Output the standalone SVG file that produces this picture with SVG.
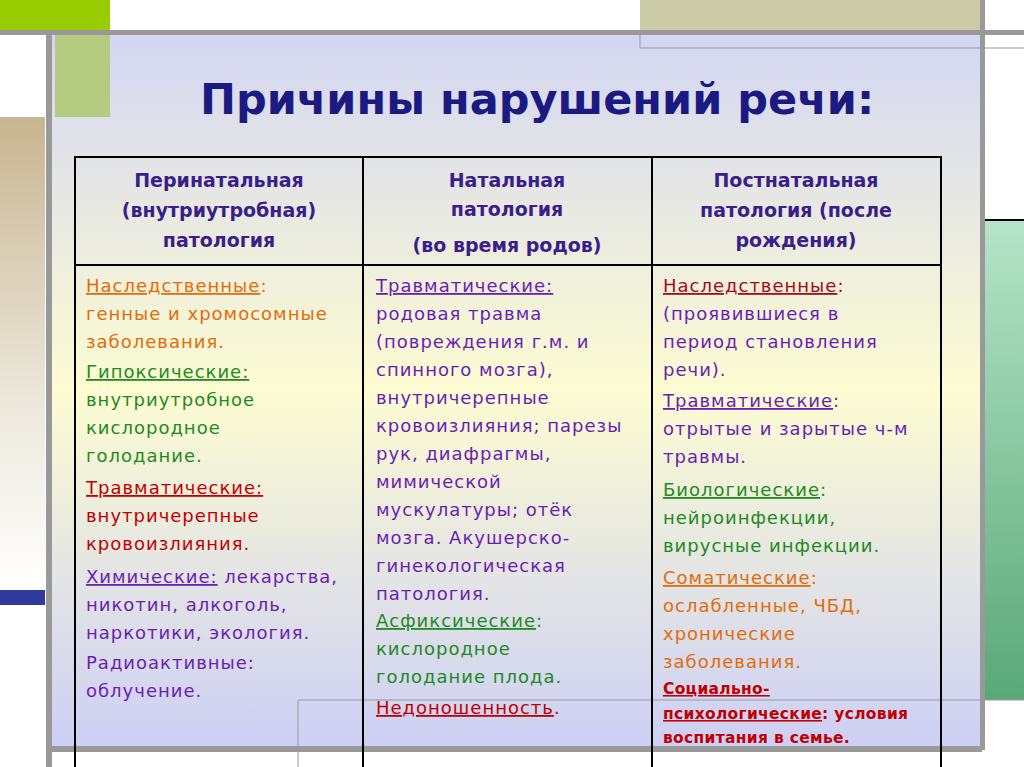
<svg xmlns="http://www.w3.org/2000/svg" width="1024" height="767" viewBox="0 0 1024 767">
<defs>
<linearGradient id="bg" x1="0" y1="0" x2="0" y2="1">
<stop offset="0" stop-color="#d3d6f2"/><stop offset="0.5" stop-color="#fdfcd2"/><stop offset="1" stop-color="#cccff5"/>
</linearGradient>
<linearGradient id="tan" x1="0" y1="0" x2="0" y2="1">
<stop offset="0" stop-color="#c8b590"/><stop offset="0.6" stop-color="#ece8dc"/><stop offset="1" stop-color="#ffffff"/>
</linearGradient>
<linearGradient id="grn" x1="0" y1="0" x2="0" y2="1">
<stop offset="0" stop-color="#b6e4c8"/><stop offset="1" stop-color="#5aa878"/>
</linearGradient>
<style>
.t{font-family:"DejaVu Sans",sans-serif;font-size:18px;letter-spacing:1px}
.h{font-family:"DejaVu Sans",sans-serif;font-size:19px;font-weight:bold;fill:#3a1e8c;text-anchor:middle}
.u{text-decoration:underline}
.or{fill:#e36c0a}.gr{fill:#1e8a22}.rd{fill:#c00000}.pu{fill:#6a1eb4}
.ln{stroke:#000;stroke-width:2;fill:none}
.gl{stroke:#999;fill:none}
</style>
</defs>
<rect width="1024" height="767" fill="#fff"/>
<g id="decor">
<rect x="0" y="0" width="110" height="30" fill="#99cc00"/>
<rect x="640" y="0" width="340" height="30" fill="#cccba8"/>
<rect x="50" y="33" width="932" height="717" fill="url(#bg)"/>
<rect x="0" y="117" width="45" height="473" fill="url(#tan)"/>
<rect x="0" y="590" width="45" height="15" fill="#2f3a9e"/>
<rect x="985" y="220" width="39" height="480" fill="url(#grn)"/>
<line x1="985" y1="220" x2="1024" y2="220" stroke="#000" stroke-width="2"/>
<rect x="0" y="30" width="1024" height="5" fill="#999"/>
<rect x="46" y="30" width="6" height="737" fill="#999"/>
<rect x="980" y="0" width="5" height="750" fill="#999"/>
<rect x="52" y="746" width="930" height="6" fill="#999"/>
<rect x="55" y="35" width="55" height="82" fill="#b5cc80"/>
<path class="gl" d="M640 30V48H1024"/>
<path class="gl" d="M298 767V700H1024"/>
</g>
<text x="537" y="114" text-anchor="middle" font-family="DejaVu Sans,sans-serif" font-size="43" font-weight="bold" fill="#1a1a82">Причины нарушений речи:</text>
<g id="table">
<rect class="ln" x="75" y="157" width="866" height="620"/>
<line class="ln" x1="75" y1="265" x2="941" y2="265"/>
<line class="ln" x1="363" y1="157" x2="363" y2="767"/>
<line class="ln" x1="652" y1="157" x2="652" y2="767"/>
</g>
<g id="headers">
<text class="h" x="219" y="187">Перинатальная</text>
<text class="h" x="219" y="217">(внутриутробная)</text>
<text class="h" x="219" y="247">патология</text>
<text class="h" x="507" y="187">Натальная</text>
<text class="h" x="507" y="216">патология</text>
<text class="h" x="507" y="252">(во время родов)</text>
<text class="h" x="796" y="187">Постнатальная</text>
<text class="h" x="796" y="217">патология (после</text>
<text class="h" x="796" y="247">рождения)</text>
</g>
<g id="col1" class="t">
<text x="86" y="292" class="or"><tspan class="u">Наследственные</tspan>:</text>
<text x="86" y="320" class="or">генные и хромосомные</text>
<text x="86" y="348" class="or">заболевания.</text>
<text x="86" y="378" class="gr"><tspan class="u">Гипоксические:</tspan></text>
<text x="86" y="406" class="gr">внутриутробное</text>
<text x="86" y="434" class="gr">кислородное</text>
<text x="86" y="462" class="gr">голодание.</text>
<text x="86" y="494" class="rd"><tspan class="u">Травматические:</tspan></text>
<text x="86" y="522" class="rd">внутричерепные</text>
<text x="86" y="550" class="rd">кровоизлияния.</text>
<text x="86" y="583" class="pu"><tspan class="u">Химические:</tspan> лекарства,</text>
<text x="86" y="611" class="pu">никотин, алкоголь,</text>
<text x="86" y="639" class="pu">наркотики, экология.</text>
<text x="86" y="669" class="pu">Радиоактивные:</text>
<text x="86" y="697" class="pu">облучение.</text>
</g>
<g id="col2" class="t">
<text x="376" y="292" class="pu"><tspan class="u">Травматические:</tspan></text>
<text x="376" y="320" class="pu">родовая травма</text>
<text x="376" y="348" class="pu">(повреждения г.м. и</text>
<text x="376" y="376" class="pu">спинного мозга),</text>
<text x="376" y="404" class="pu">внутричерепные</text>
<text x="376" y="432" class="pu">кровоизлияния; парезы</text>
<text x="376" y="460" class="pu">рук, диафрагмы,</text>
<text x="376" y="488" class="pu">мимической</text>
<text x="376" y="516" class="pu">мускулатуры; отёк</text>
<text x="376" y="544" class="pu">мозга. Акушерско-</text>
<text x="376" y="572" class="pu">гинекологическая</text>
<text x="376" y="600" class="pu">патология.</text>
<text x="376" y="627" class="gr"><tspan class="u">Асфиксические</tspan>:</text>
<text x="376" y="655" class="gr">кислородное</text>
<text x="376" y="683" class="gr">голодание плода.</text>
<text x="376" y="714" class="rd"><tspan class="u">Недоношенность</tspan>.</text>
</g>
<g id="col3" class="t">
<text x="663" y="292" fill="#a00c1c"><tspan class="u">Наследственные</tspan>:</text>
<text x="663" y="320" class="pu">(проявившиеся в</text>
<text x="663" y="348" class="pu">период становления</text>
<text x="663" y="376" class="pu">речи).</text>
<text x="663" y="407" class="pu"><tspan class="u">Травматические</tspan>:</text>
<text x="663" y="435" class="pu">отрытые и зарытые ч-м</text>
<text x="663" y="463" class="pu">травмы.</text>
<text x="663" y="496" class="gr"><tspan class="u">Биологические</tspan>:</text>
<text x="663" y="524" class="gr">нейроинфекции,</text>
<text x="663" y="552" class="gr">вирусные инфекции.</text>
<text x="663" y="584" class="or"><tspan class="u">Соматические</tspan>:</text>
<text x="663" y="612" class="or">ослабленные, ЧБД,</text>
<text x="663" y="640" class="or">хронические</text>
<text x="663" y="668" class="or">заболевания.</text>
<g font-size="15.5" font-weight="bold" letter-spacing="0.3">
<text x="663" y="694" class="rd"><tspan class="u">Социально-</tspan></text>
<text x="663" y="719" class="rd"><tspan class="u">психологические</tspan>: условия</text>
<text x="663" y="743" class="rd">воспитания в семье.</text>
</g>
</g>
</svg>
